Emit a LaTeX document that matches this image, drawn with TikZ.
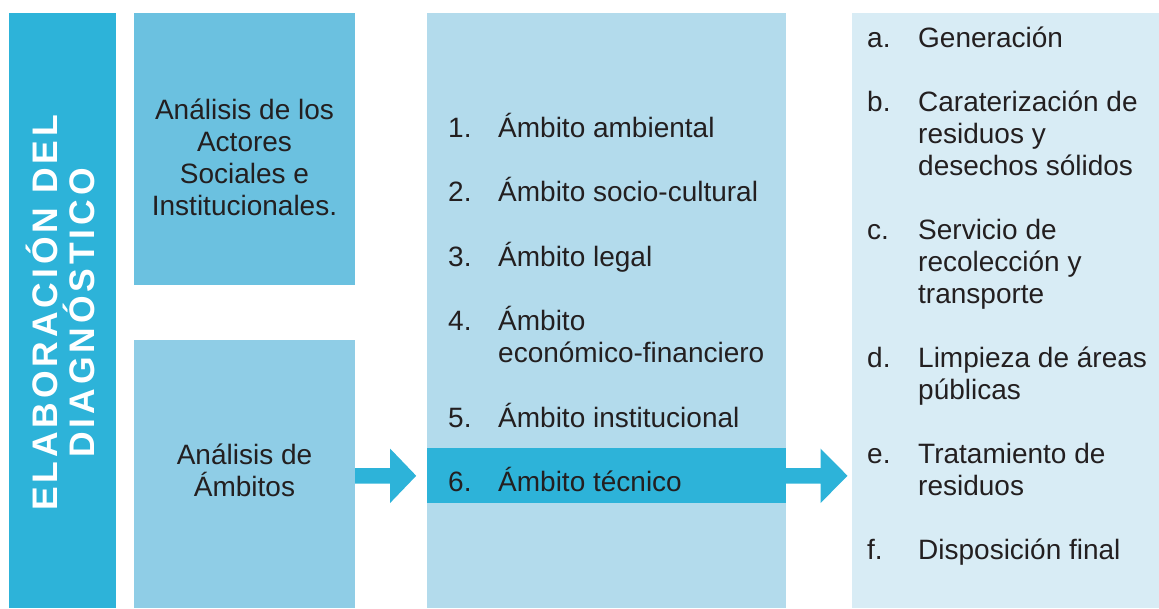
\documentclass[tikz,border=0pt]{standalone}
\usepackage{fontspec}
\setmainfont{Liberation Sans}
\newfontfamily\titlefont[LetterSpace=11]{Liberation Sans Bold}
\usetikzlibrary{calc}
\definecolor{dblue}{HTML}{2DB3D9}
\definecolor{boxa}{HTML}{6BC1E0}
\definecolor{boxb}{HTML}{8FCDE6}
\definecolor{midcol}{HTML}{B3DBEC}
\definecolor{rightcol}{HTML}{D8ECF5}
\definecolor{tcol}{HTML}{231F20}
\begin{document}
\begin{tikzpicture}[x=1pt,y=-1pt,
  panel/.style={anchor=north west, inner sep=0pt, outer sep=0pt, draw=none},
  txt/.style={text=tcol, inner sep=0pt, font=\fontsize{28}{32}\selectfont, anchor=base west},
  ctxt/.style={text=tcol, inner sep=0pt, font=\fontsize{28}{32}\selectfont, anchor=base},
  blockarrow/.style={fill=dblue, draw=none}]
\useasboundingbox (0,0) rectangle (1159,608);
% panels
\node[panel, fill=dblue, minimum width=107, minimum height=595] (bar) at (9,13) {};
\node[panel, fill=boxa, minimum width=221, minimum height=272] (box1) at (134,13) {};
\node[panel, fill=boxb, minimum width=221, minimum height=268] (box2) at (134,340) {};
\node[panel, fill=midcol, minimum width=359, minimum height=595] (mid) at (427,13) {};
\node[panel, fill=dblue, minimum width=359, minimum height=55] (row6) at (427,448.3) {};
\node[panel, fill=rightcol, minimum width=307, minimum height=595] (right) at (852,13) {};
% title
\node[rotate=90, text=white, inner sep=0pt, align=center,
  font=\titlefont\fontsize{35.5}{37}\selectfont] (title) at ($(bar.center)+(-2,2.5)$) {ELABORACIÓN DEL\\DIAGNÓSTICO};
% left boxes
\node[ctxt] (b1l1) at (244.5,119) {Análisis de los};
\node[ctxt] (b1l2) at (244.5,151) {Actores};
\node[ctxt] (b1l3) at (244.5,183) {Sociales e};
\node[ctxt] (b1l4) at (244.5,215) {Institucionales.};
\node[ctxt] (b2l1) at (244.5,464) {Análisis de};
\node[ctxt] (b2l2) at (244.5,496) {Ámbitos};
% middle list
\node[txt] (n1) at (448,137.5) {1.};
\node[txt] (t1) at (498,137.5) {Ámbito ambiental};
\node[txt] (n2) at (448,201.8) {2.};
\node[txt] (t2) at (498,201.8) {Ámbito socio-cultural};
\node[txt] (n3) at (448,266.2) {3.};
\node[txt] (t3) at (498,266.2) {Ámbito legal};
\node[txt] (n4) at (448,330.6) {4.};
\node[txt] (t4) at (498,330.6) {Ámbito};
\node[txt] (t4b) at (498,362.8) {económico-financiero};
\node[txt] (n5) at (448,427.2) {5.};
\node[txt] (t5) at (498,427.2) {Ámbito institucional};
\node[txt] (n6) at (448,491.4) {6.};
\node[txt] (t6) at (498,491.4) {Ámbito técnico};
% right list
\node[txt] (la) at (867,47) {a.};
\node[txt] (ra) at (918,47) {Generación};
\node[txt] (lb) at (867,111) {b.};
\node[txt] (rb1) at (918,111) {Caraterización de};
\node[txt] (rb2) at (918,143) {residuos y};
\node[txt] (rb3) at (918,175) {desechos sólidos};
\node[txt] (lc) at (867,239) {c.};
\node[txt] (rc1) at (918,239) {Servicio de};
\node[txt] (rc2) at (918,271) {recolección y};
\node[txt] (rc3) at (918,303) {transporte};
\node[txt] (ld) at (867,367) {d.};
\node[txt] (rd1) at (918,367) {Limpieza de áreas};
\node[txt] (rd2) at (918,399) {públicas};
\node[txt] (le) at (867,463) {e.};
\node[txt] (re1) at (918,463) {Tratamiento de};
\node[txt] (re2) at (918,495) {residuos};
\node[txt] (lf) at (867,559) {f.};
\node[txt] (rf) at (918,559) {Disposición final};
% block arrows
\coordinate (a1s) at (box2.east |- row6.center);
\coordinate (a1t) at ($(row6.west)+(-10.8,0)$);
\fill[blockarrow] ($(a1s)+(0,-7.8)$) -- ($(a1s)+(35,-7.8)$) -- ($(a1s)+(35,-27.3)$)
  -- (a1t) -- ($(a1s)+(35,27.3)$) -- ($(a1s)+(35,7.8)$) -- ($(a1s)+(0,7.8)$) -- cycle;
\coordinate (a2s) at (row6.east);
\coordinate (a2t) at ($(right.west |- row6.center)+(-4.5,0)$);
\fill[blockarrow] ($(a2s)+(0,-7.8)$) -- ($(a2s)+(34.5,-7.8)$) -- ($(a2s)+(34.5,-27.3)$)
  -- (a2t) -- ($(a2s)+(34.5,27.3)$) -- ($(a2s)+(34.5,7.8)$) -- ($(a2s)+(0,7.8)$) -- cycle;
\end{tikzpicture}
\end{document}
